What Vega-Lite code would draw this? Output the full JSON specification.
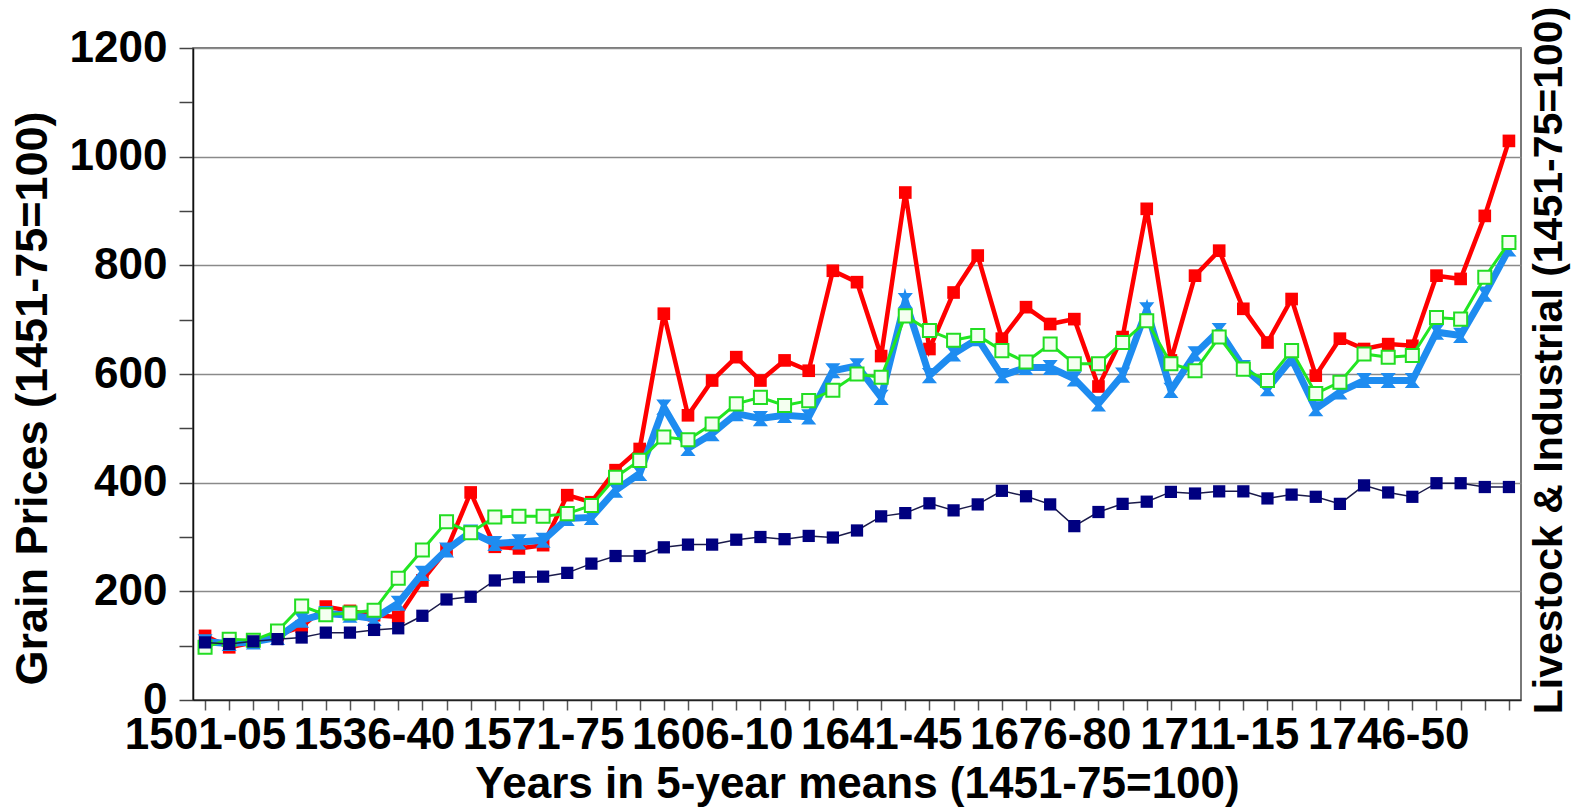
{
  "$schema": "https://vega.github.io/schema/vega-lite/v6.json",
  "autosize": "none",
  "padding": {"left": 193, "top": 48, "right": 58, "bottom": 107},
  "width": 1328,
  "height": 652,
  "background": "white",
  "config": {"font": "Liberation Sans", "view": {"stroke": "#4d4d4d", "strokeWidth": 1.5}},
  "data": {"values": [
    {"period": "1501-05", "red": 118, "blue": 107, "green": 97, "navy": 106},
    {"period": "1506-10", "red": 97, "blue": 104, "green": 112, "navy": 103},
    {"period": "1511-15", "red": 106, "blue": 107, "green": 110, "navy": 108},
    {"period": "1516-20", "red": 120, "blue": 115, "green": 127, "navy": 112},
    {"period": "1521-25", "red": 135, "blue": 147, "green": 173, "navy": 115},
    {"period": "1526-30", "red": 172, "blue": 159, "green": 157, "navy": 124},
    {"period": "1531-35", "red": 164, "blue": 156, "green": 160, "navy": 124},
    {"period": "1536-40", "red": 156, "blue": 150, "green": 165, "navy": 129},
    {"period": "1541-45", "red": 153, "blue": 178, "green": 224, "navy": 132},
    {"period": "1546-50", "red": 220, "blue": 233, "green": 276, "navy": 155},
    {"period": "1551-55", "red": 276, "blue": 276, "green": 328, "navy": 185},
    {"period": "1556-60", "red": 382, "blue": 309, "green": 308, "navy": 190},
    {"period": "1561-65", "red": 282, "blue": 288, "green": 337, "navy": 220},
    {"period": "1566-70", "red": 279, "blue": 291, "green": 338, "navy": 226},
    {"period": "1571-75", "red": 285, "blue": 294, "green": 338, "navy": 227},
    {"period": "1576-80", "red": 377, "blue": 334, "green": 343, "navy": 234},
    {"period": "1581-85", "red": 364, "blue": 336, "green": 358, "navy": 251},
    {"period": "1586-90", "red": 423, "blue": 386, "green": 410, "navy": 265},
    {"period": "1591-95", "red": 462, "blue": 417, "green": 441, "navy": 265},
    {"period": "1596-1600", "red": 711, "blue": 539, "green": 484, "navy": 281},
    {"period": "1601-05", "red": 524, "blue": 463, "green": 479, "navy": 286},
    {"period": "1606-10", "red": 588, "blue": 490, "green": 508, "navy": 286},
    {"period": "1611-15", "red": 631, "blue": 527, "green": 545, "navy": 295},
    {"period": "1616-20", "red": 588, "blue": 518, "green": 557, "navy": 300},
    {"period": "1621-25", "red": 625, "blue": 524, "green": 542, "navy": 296},
    {"period": "1626-30", "red": 606, "blue": 521, "green": 551, "navy": 302},
    {"period": "1631-35", "red": 790, "blue": 606, "green": 570, "navy": 299},
    {"period": "1636-40", "red": 769, "blue": 615, "green": 600, "navy": 312},
    {"period": "1641-45", "red": 633, "blue": 557, "green": 594, "navy": 338},
    {"period": "1646-50", "red": 934, "blue": 735, "green": 707, "navy": 344},
    {"period": "1651-55", "red": 646, "blue": 597, "green": 680, "navy": 362},
    {"period": "1656-60", "red": 750, "blue": 637, "green": 662, "navy": 349},
    {"period": "1661-65", "red": 818, "blue": 665, "green": 671, "navy": 360},
    {"period": "1666-70", "red": 665, "blue": 597, "green": 643, "navy": 385},
    {"period": "1671-75", "red": 723, "blue": 612, "green": 622, "navy": 375},
    {"period": "1676-80", "red": 692, "blue": 612, "green": 655, "navy": 360},
    {"period": "1681-85", "red": 701, "blue": 591, "green": 619, "navy": 320},
    {"period": "1686-90", "red": 577, "blue": 545, "green": 619, "navy": 346},
    {"period": "1691-95", "red": 668, "blue": 598, "green": 658, "navy": 361},
    {"period": "1696-1700", "red": 904, "blue": 718, "green": 698, "navy": 365},
    {"period": "1701-05", "red": 625, "blue": 570, "green": 619, "navy": 383},
    {"period": "1706-10", "red": 781, "blue": 637, "green": 606, "navy": 380},
    {"period": "1711-15", "red": 827, "blue": 680, "green": 668, "navy": 384},
    {"period": "1716-20", "red": 720, "blue": 612, "green": 609, "navy": 384},
    {"period": "1721-25", "red": 658, "blue": 573, "green": 588, "navy": 371},
    {"period": "1726-30", "red": 738, "blue": 628, "green": 643, "navy": 378},
    {"period": "1731-35", "red": 597, "blue": 536, "green": 564, "navy": 374},
    {"period": "1736-40", "red": 665, "blue": 567, "green": 585, "navy": 361},
    {"period": "1741-45", "red": 646, "blue": 588, "green": 637, "navy": 395},
    {"period": "1746-50", "red": 655, "blue": 588, "green": 631, "navy": 382},
    {"period": "1751-55", "red": 652, "blue": 588, "green": 634, "navy": 374},
    {"period": "1756-60", "red": 781, "blue": 677, "green": 704, "navy": 399},
    {"period": "1761-65", "red": 775, "blue": 671, "green": 701, "navy": 399},
    {"period": "1766-70", "red": 891, "blue": 747, "green": 778, "navy": 392},
    {"period": "1771-75", "red": 1029, "blue": 830, "green": 842, "navy": 392}
  ]},
  "encoding": {
    "x": {
      "field": "period", "type": "ordinal", "sort": null,
      "scale": {"type": "point", "padding": 0.5},
      "axis": {
        "labelExpr": "indexof(['1501-05','1536-40','1571-75','1606-10','1641-45','1676-80','1711-15','1746-50'], datum.value) >= 0 ? datum.value : ''",
        "labelAngle": 0, "labelOverlap": false,
        "labelFontSize": 44, "labelFontWeight": "bold", "labelColor": "black", "labelPadding": 3,
        "tickSize": 10, "tickColor": "#555555", "tickWidth": 1.5,
        "domainColor": "#222222", "domainWidth": 1.5,
        "title": "Years in 5-year means (1451-75=100)",
        "titleFontSize": 44, "titleFontWeight": "bold", "titleColor": "black", "titlePadding": 5
      }
    }
  },
  "layer": [
    {
      "layer": [
        {"mark": {"type": "line", "color": "#ff0000", "strokeWidth": 4.5},
         "encoding": {"y": {"field": "red", "type": "quantitative", "title": "Grain Prices (1451-75=100)",
           "scale": {"domain": [0, 1200], "nice": false},
           "axis": {
             "orient": "left",
             "values": [0, 100, 200, 300, 400, 500, 600, 700, 800, 900, 1000, 1100, 1200],
             "format": "d",
             "labelExpr": "datum.value % 200 == 0 ? datum.label : ''",
             "grid": true, "gridColor": "#8a8a8a", "gridWidth": 1.5,
             "gridOpacity": {"condition": {"test": "datum.value % 200 == 0 && datum.value > 0", "value": 1}, "value": 0},
             "domainColor": "#111111", "domainWidth": 1.5,
             "tickColor": "#444444", "tickWidth": 1.5, "tickSize": 14,
             "labelFontSize": 44, "labelFontWeight": "bold", "labelColor": "black", "labelPadding": 12,
             "title": "Grain Prices (1451-75=100)",
             "titleFontSize": 45, "titleFontWeight": "bold", "titleColor": "black", "titlePadding": 14, "titleY": 350
           }}}},
        {"mark": {"type": "point", "shape": "square", "filled": true, "color": "#ff0000", "size": 160, "opacity": 1},
         "encoding": {"y": {"field": "red", "type": "quantitative", "title": "Grain Prices (1451-75=100)"}}},
        {"mark": {"type": "line", "color": "#1e8cf0", "strokeWidth": 7},
         "encoding": {"y": {"field": "blue", "type": "quantitative", "title": "Grain Prices (1451-75=100)"}}},
        {"mark": {"type": "point", "shape": "M-1,-1L1,-1L0.2,0L1,1L-1,1L-0.2,0Z", "filled": true, "color": "#1e8cf0", "size": 230, "opacity": 1},
         "encoding": {"y": {"field": "blue", "type": "quantitative", "title": "Grain Prices (1451-75=100)"}}},
        {"mark": {"type": "line", "color": "#22e622", "strokeWidth": 3},
         "encoding": {"y": {"field": "green", "type": "quantitative", "title": "Grain Prices (1451-75=100)"}}},
        {"mark": {"type": "point", "shape": "square", "filled": true, "fill": "#f4fff0", "stroke": "#22dd22", "strokeWidth": 2, "size": 170, "opacity": 1},
         "encoding": {"y": {"field": "green", "type": "quantitative", "title": "Grain Prices (1451-75=100)"}}}
      ]
    },
    {
      "layer": [
        {"mark": {"type": "line", "color": "#1a1a4a", "strokeWidth": 1.5},
         "encoding": {"y": {"field": "navy", "type": "quantitative", "title": "Livestock & Industrial (1451-75=100)",
           "scale": {"domain": [0, 1200], "nice": false},
           "axis": {
             "orient": "right", "labels": false, "ticks": false, "domain": false, "grid": false,
             "title": "Livestock & Industrial (1451-75=100)",
             "titleAngle": 270, "titleBaseline": "top", "titleAlign": "center",
             "titleFontSize": 41, "titleFontWeight": "bold", "titleColor": "black",
             "titlePadding": 8, "titleY": 312
           }}}},
        {"mark": {"type": "point", "shape": "square", "filled": true, "color": "#000080", "size": 150, "opacity": 1},
         "encoding": {"y": {"field": "navy", "type": "quantitative", "title": "Livestock & Industrial (1451-75=100)"}}}
      ]
    }
  ],
  "resolve": {"scale": {"y": "independent"}}
}
